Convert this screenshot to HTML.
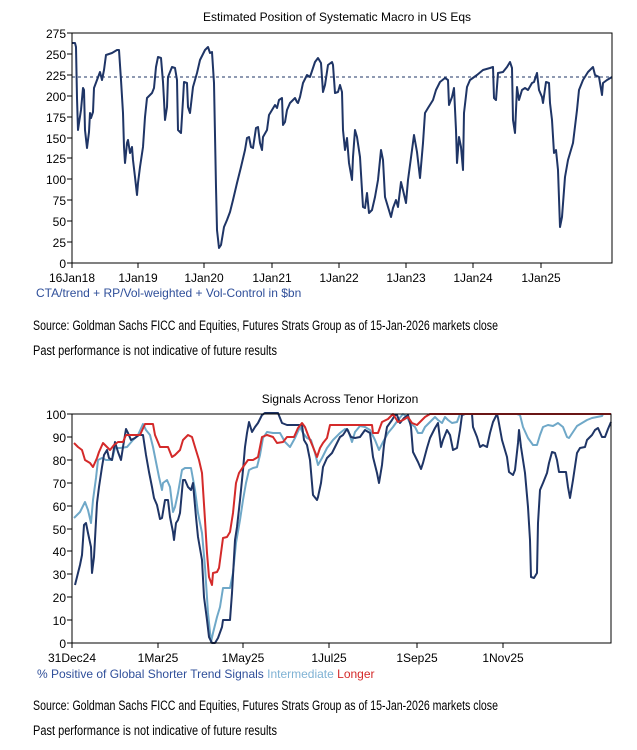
<!DOCTYPE html>
<html><head><meta charset="utf-8"><style>
html,body{margin:0;padding:0;background:#fff}
svg{display:block}
text{font-family:"Liberation Sans",sans-serif}
</style></head><body>
<svg width="637" height="750" viewBox="0 0 637 750" xmlns="http://www.w3.org/2000/svg">
<text x="337" y="21" font-size="12" text-anchor="middle" fill="#000">Estimated Position of Systematic Macro in US Eqs</text>
<g font-size="12" fill="#000" text-anchor="end">
<text x="66" y="38">275</text><text x="66" y="59">250</text><text x="66" y="80">225</text><text x="66" y="101">200</text><text x="66" y="122">175</text><text x="66" y="143">150</text><text x="66" y="163">125</text><text x="66" y="184">100</text><text x="66" y="205">75</text><text x="66" y="226">50</text><text x="66" y="247">25</text><text x="66" y="268">0</text>
</g>
<g stroke="#000" stroke-width="1">
<line x1="67" y1="33" x2="72" y2="33"/><line x1="67" y1="54" x2="72" y2="54"/><line x1="67" y1="75" x2="72" y2="75"/><line x1="67" y1="96" x2="72" y2="96"/><line x1="67" y1="117" x2="72" y2="117"/><line x1="67" y1="138" x2="72" y2="138"/><line x1="67" y1="158" x2="72" y2="158"/><line x1="67" y1="179" x2="72" y2="179"/><line x1="67" y1="200" x2="72" y2="200"/><line x1="67" y1="221" x2="72" y2="221"/><line x1="67" y1="242" x2="72" y2="242"/><line x1="67" y1="263" x2="72" y2="263"/>
<line x1="72" y1="263" x2="72" y2="268"/><line x1="138" y1="263" x2="138" y2="268"/><line x1="204" y1="263" x2="204" y2="268"/><line x1="272" y1="263" x2="272" y2="268"/><line x1="339" y1="263" x2="339" y2="268"/><line x1="406" y1="263" x2="406" y2="268"/><line x1="473" y1="263" x2="473" y2="268"/><line x1="541" y1="263" x2="541" y2="268"/>
</g>
<g font-size="12" fill="#000" text-anchor="middle">
<text x="72" y="282">16Jan18</text><text x="138" y="282">1Jan19</text><text x="204" y="282">1Jan20</text><text x="272" y="282">1Jan21</text><text x="339" y="282">1Jan22</text><text x="406" y="282">1Jan23</text><text x="473" y="282">1Jan24</text><text x="541" y="282">1Jan25</text>
</g>
<line x1="72" y1="77" x2="612" y2="77" stroke="#1f3566" stroke-width="1" stroke-dasharray="3,3"/>
<polyline fill="none" stroke="#1f3566" stroke-width="2" stroke-linejoin="round" points="72,43 75,43 76,47 77,98 78,130 79,123 81,110 83,88 84,90 85,130 87,148 89,132 90,113 91,118 93,112 94,88 97,80 100,72 102,80 104,70 106,55 112,53 117,50 119,50 121,80 123,113 124,147 125,163 127,143 128,140 130,153 132,147 133,160 135,177 137,195 138,183 140,167 143,147 145,117 147,98 152,93 154,88 156,67 158,57 161,58 163,82 164,100 165,120 167,107 168,77 172,67 175,68 177,80 178,130 181,133 183,100 184,82 187,83 188,107 190,113 193,87 197,73 200,60 205,50 208,47 210,53 212,52 214,83 216,187 217,230 219,248 221,245 223,233 224,227 227,220 230,212 233,200 237,183 241,167 245,150 247,138 249,137 251,147 253,148 256,128 258,127 260,143 262,150 263,137 267,130 269,115 272,110 275,105 277,108 279,100 282,98 283,125 285,122 287,110 290,103 293,100 295,98 297,102 298,103 300,97 303,83 307,75 310,77 315,62 318,58 321,63 323,92 325,85 328,65 332,62 333,65 335,93 338,92 340,85 342,92 343,130 345,150 347,138 349,163 352,180 353,157 355,130 357,137 360,157 363,207 365,208 367,193 369,213 372,210 375,197 378,180 381,150 383,160 385,197 388,207 391,217 393,208 396,200 398,207 401,182 403,190 406,203 408,180 412,150 414,135 417,152 420,178 423,143 425,113 428,108 433,100 436,90 440,82 445,78 448,80 449,105 452,97 454,88 456,130 457,163 459,137 461,147 463,170 464,113 467,87 470,80 477,75 483,70 490,68 493,67 494,98 496,100 498,73 503,72 507,67 510,62 512,68 513,120 515,133 517,87 519,100 522,90 525,88 528,90 532,83 534,82 537,73 539,90 542,97 543,103 546,82 549,83 550,103 552,120 554,153 556,150 558,170 560,227 562,217 565,177 568,160 573,143 577,110 579,90 583,80 588,72 593,67 595,75 599,77 602,95 603,83 607,80 612,77"/>
<rect x="72" y="33" width="540" height="230" fill="none" stroke="#000" stroke-width="1"/>
<text x="36" y="297" font-size="12" fill="#2f4f9a">CTA/trend + RP/Vol-weighted + Vol-Control in $bn</text>
<text x="33" y="330" font-size="13.5" fill="#000" textLength="465" lengthAdjust="spacingAndGlyphs">Source: Goldman Sachs FICC and Equities, Futures Strats Group as of 15-Jan-2026 markets close</text>
<text x="33" y="355" font-size="13.5" fill="#000" textLength="244" lengthAdjust="spacingAndGlyphs">Past performance is not indicative of future results</text>

<text x="340" y="403" font-size="12" text-anchor="middle" fill="#000">Signals Across Tenor Horizon</text>
<g font-size="12" fill="#000" text-anchor="end">
<text x="66" y="419">100</text><text x="66" y="442">90</text><text x="66" y="465">80</text><text x="66" y="488">70</text><text x="66" y="511">60</text><text x="66" y="534">50</text><text x="66" y="556">40</text><text x="66" y="579">30</text><text x="66" y="602">20</text><text x="66" y="625">10</text><text x="66" y="648">0</text>
</g>
<g stroke="#000" stroke-width="1">
<line x1="67" y1="414" x2="72" y2="414"/><line x1="67" y1="437" x2="72" y2="437"/><line x1="67" y1="460" x2="72" y2="460"/><line x1="67" y1="483" x2="72" y2="483"/><line x1="67" y1="506" x2="72" y2="506"/><line x1="67" y1="529" x2="72" y2="529"/><line x1="67" y1="551" x2="72" y2="551"/><line x1="67" y1="574" x2="72" y2="574"/><line x1="67" y1="597" x2="72" y2="597"/><line x1="67" y1="620" x2="72" y2="620"/><line x1="67" y1="643" x2="72" y2="643"/>
<line x1="72" y1="643" x2="72" y2="648"/><line x1="158" y1="643" x2="158" y2="648"/><line x1="243" y1="643" x2="243" y2="648"/><line x1="329" y1="643" x2="329" y2="648"/><line x1="417" y1="643" x2="417" y2="648"/><line x1="503" y1="643" x2="503" y2="648"/>
</g>
<g font-size="12" fill="#000" text-anchor="middle">
<text x="72" y="662">31Dec24</text><text x="158" y="662">1Mar25</text><text x="243" y="662">1May25</text><text x="329" y="662">1Jul25</text><text x="417" y="662">1Sep25</text><text x="503" y="662">1Nov25</text>
</g>
<polyline fill="none" stroke="#6fa8c8" stroke-width="2" stroke-linejoin="round" points="74,518 80,512 85,502 88,510 91,523 93,500 96,478 98,460 102,458 106,460 112,460 115,448 120,448 127,447 133,440 138,435 143,424 146,430 150,435 153,447 156,462 159,477 162,490 163,483 167,480 170,487 173,512 175,507 178,493 182,470 185,468 191,468 195,490 198,513 202,533 205,567 208,613 211,642 213,633 217,617 220,607 223,588 230,588 233,573 236,543 240,520 243,500 246,483 249,470 253,468 257,467 260,455 263,438 267,432 273,433 280,433 285,442 290,447 295,438 300,427 303,433 307,438 311,440 315,453 318,465 322,458 327,448 333,440 340,433 345,429 348,430 352,442 355,432 360,426 365,427 370,430 375,440 379,450 383,442 388,433 393,427 398,420 403,414 407,417 410,423 415,427 418,433 422,433 425,427 430,422 435,417 438,420 442,423 445,417 448,420 452,423 457,422 460,414 517,414 520,415 523,427 528,438 533,445 537,445 540,435 543,427 548,425 553,426 558,423 563,427 567,437 569,438 573,432 577,426 582,423 587,420 592,418 597,417 602,416 603,414 611,414"/>
<polyline fill="none" stroke="#1f3566" stroke-width="2" stroke-linejoin="round" points="75,585 77,577 80,565 82,555 84,525 86,523 88,533 91,547 92,573 94,557 97,503 99,487 102,467 104,455 107,450 109,458 112,460 115,442 118,452 121,460 123,447 126,429 128,433 131,440 135,438 139,435 143,435 146,455 149,472 152,487 154,498 157,505 160,519 162,518 165,500 168,500 170,517 173,532 174,540 176,523 178,520 180,513 183,480 185,480 188,487 191,490 193,483 196,517 198,537 202,560 204,597 207,620 209,637 212,643 215,643 218,638 222,627 223,620 230,620 232,593 235,540 237,527 240,500 243,470 245,447 247,433 249,422 252,432 255,427 258,423 262,415 265,413 278,413 282,423 287,425 302,425 304,440 307,445 310,460 313,495 317,500 318,497 321,483 323,467 327,458 332,453 335,447 340,437 343,435 347,429 351,437 355,438 360,437 365,430 370,433 373,457 377,473 379,483 382,465 384,445 387,427 392,420 395,415 397,415 400,423 404,418 408,415 411,427 413,452 418,462 421,469 423,463 427,448 430,438 435,428 438,423 441,447 443,440 447,430 450,435 453,450 457,448 460,430 462,415 465,414 472,414 473,427 477,437 480,447 483,445 487,447 490,433 493,422 497,414 498,418 502,440 507,457 509,472 513,475 515,470 518,443 519,430 521,447 525,473 528,507 530,540 531,577 534,578 537,573 538,523 540,490 543,483 547,473 549,463 552,452 555,453 557,460 559,472 566,472 568,487 570,498 573,480 577,453 580,448 585,447 587,440 592,435 595,430 598,428 602,437 605,437 608,429 611,422"/>
<polyline fill="none" stroke="#d42a2a" stroke-width="2" stroke-linejoin="round" points="74,443 78,447 82,450 85,460 90,463 93,467 97,458 99,452 103,443 107,447 110,450 114,445 118,442 123,442 126,435 133,435 140,435 145,424 153,424 155,435 160,447 168,447 172,457 175,455 180,450 183,440 188,435 192,437 195,447 199,460 202,473 205,520 207,553 209,577 212,585 213,573 217,572 219,568 223,538 227,537 230,532 233,513 236,483 239,473 243,467 248,460 253,460 258,457 262,437 267,435 273,437 277,443 283,442 287,437 294,437 298,428 302,423 305,427 308,435 313,447 317,457 320,448 323,443 327,438 330,425 343,425 357,425 372,425 373,433 378,433 382,422 388,419 393,414 398,422 403,420 408,417 412,423 417,425 420,422 425,417 430,414 611,414"/>
<rect x="72" y="414" width="539" height="229" fill="none" stroke="#000" stroke-width="1"/>
<text x="37" y="678" font-size="12"><tspan fill="#2f4f9a">% Positive of Global Shorter Trend Signals</tspan><tspan fill="#7fb2d4"> Intermediate</tspan><tspan fill="#d42a2a"> Longer</tspan></text>
<text x="33" y="710" font-size="13.5" fill="#000" textLength="465" lengthAdjust="spacingAndGlyphs">Source: Goldman Sachs FICC and Equities, Futures Strats Group as of 15-Jan-2026 markets close</text>
<text x="33" y="735" font-size="13.5" fill="#000" textLength="244" lengthAdjust="spacingAndGlyphs">Past performance is not indicative of future results</text>
</svg>
</body></html>
